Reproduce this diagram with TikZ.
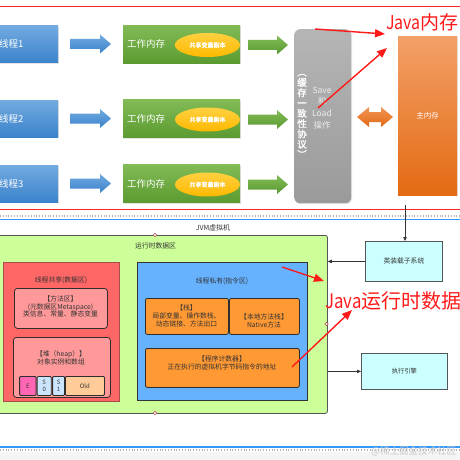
\documentclass[tikz,border=0pt]{standalone}
\usepackage{fontspec}
\setmainfont{Noto Sans CJK SC}
\newfontfamily\cjkbold[FakeBold=1.5]{Noto Sans CJK SC}
\usetikzlibrary{arrows.meta,shapes.geometric,shadows}
\definecolor{thrtop}{HTML}{72AAE0}
\definecolor{thrbot}{HTML}{3A83CB}
\definecolor{grntop}{HTML}{82BB56}
\definecolor{grnbot}{HTML}{5B9A31}
\definecolor{ylwtop}{HTML}{FFD040}
\definecolor{ylwbot}{HTML}{FDB900}
\definecolor{graytop}{HTML}{B5B5B5}
\definecolor{graybot}{HTML}{9A9A9A}
\definecolor{orgtop}{HTML}{F3A068}
\definecolor{orgbot}{HTML}{E36A12}
\definecolor{limec}{HTML}{CCFF99}
\definecolor{shredc}{HTML}{FF6666}
\definecolor{pinkc}{HTML}{FF9999}
\definecolor{privc}{HTML}{66B2FF}
\definecolor{orgc}{HTML}{FF9933}
\definecolor{cyanc}{HTML}{CCFFFF}
\definecolor{edenc}{HTML}{FF66B3}
\definecolor{survc}{HTML}{CCE5FF}
\definecolor{oldc}{HTML}{FFCC99}
\definecolor{edgec}{HTML}{555555}
\definecolor{redmark}{HTML}{FF1A1A}
\definecolor{linkblue}{HTML}{3399FF}
\definecolor{textc}{HTML}{333333}
\newcommand\myblockarrow[4]{%
  \shade[#4] (#1,#3-5) -- (#2-11,#3-5) -- (#2-11,#3-9.5) -- (#2,#3) -- (#2-11,#3+9.5) -- (#2-11,#3+5) -- (#1,#3+5) -- cycle;}
\newcommand\narrowjava{\scalebox{0.84}[1]{Java}}
\tikzset{
  box/.style={rectangle, inner sep=0pt, anchor=north west},
  shadowed/.style={drop shadow={opacity=0.22, shadow xshift=0.8pt, shadow yshift=-1pt}},
  threadbox/.style={box, shadowed, top color=thrtop, bottom color=thrbot, minimum width=88, minimum height=37},
  workbox/.style={box, shadowed, top color=grntop, bottom color=grnbot, minimum width=117, minimum height=38},
  copyell/.style={ellipse, inner sep=0pt, top color=ylwtop, bottom color=ylwbot, minimum width=65, minimum height=24},
  dbox/.style={box, draw=edgec, line width=0.8pt},
  inbox/.style={box, draw=textc!90!black, line width=0.8pt, rounded corners=2pt},
  small/.style={font=\fontsize{6.8}{7.6}\selectfont, text=textc, align=center, inner sep=0pt},
  bigred/.style={anchor=base west, inner sep=0pt, text=redmark},
  redarrow/.style={redmark, line width=1.4pt, -{Triangle[length=10pt,width=8pt]}},
  conn/.style={textc, line width=0.6pt, -{Triangle[length=4pt,width=3.5pt]}},
  handle/.style={circle, draw=red!40!gray, fill=white, inner sep=0pt, minimum size=3.5pt, line width=0.4pt}
}
\begin{document}
\begin{tikzpicture}[x=1pt,y=-1pt]
\useasboundingbox (0,0) rectangle (460,460);
\clip (0,0) rectangle (460,460);
\fill[white] (0,0) rectangle (460,460);
\fill[gray!8] (0,452) rectangle (460,460);

% ---------- top part: Java memory model ----------
\draw[red!85, line width=1pt] (-5,7) rectangle (470,209.5);

\foreach \n/\yc in {1/44,2/118.5,3/183.5}{
  \node[threadbox] (t\n) at (-30,\yc-18.5) {};
  \node[anchor=west, text=white, inner sep=0pt, font=\fontsize{9.5}{10}\selectfont] (tl\n) at (-1,\yc) {线程\n};
  \myblockarrow{70}{111}{\yc}{top color=thrtop, bottom color=thrbot}
  \node[workbox] (w\n) at (123,\yc-19) {};
  \node[anchor=west, text=white, inner sep=0pt, font=\fontsize{9.5}{10}\selectfont] (wl\n) at (127,\yc) {工作内存};
  \node[copyell] (e\n) at (207.5,\yc+1) {};
  \node[text=white, inner sep=0pt, font=\cjkbold\fontsize{6}{6}\selectfont] (el\n) at (e\n) {共享变量副本};
  \myblockarrow{248}{288}{\yc+1}{top color=grntop, bottom color=grnbot}
}

\node[box, shadowed, rounded corners=6pt, top color=graytop, bottom color=graybot,
      minimum width=57, minimum height=174] (cache) at (294,29) {};
\node[text=white, align=center, inner sep=0pt, font=\cjkbold\fontsize{9.5}{10.3}\selectfont] (proto) at (302,116)
  {︵\\缓\\存\\一\\致\\性\\协\\议\\︶};
\node[text=white!85!gray, align=center, inner sep=0pt, font=\fontsize{8.5}{11.7}\selectfont] (saveload) at (322,108)
  {Save\\和\\Load\\操作};

\shade[top color=orgtop!80!orgbot, bottom color=orgbot]
  (357,117) -- (369,107) -- (369,112) -- (381,112) -- (381,107) -- (393,117)
  -- (381,127) -- (381,122) -- (369,122) -- (369,127) -- cycle;

\node[box, shadowed, top color=orgtop, bottom color=orgbot, minimum width=59, minimum height=159] (mainmem) at (398,36) {};
\node[text=white, inner sep=0pt, font=\fontsize{7.5}{8}\selectfont] (mainlbl) at (mainmem) {主内存};

\node[bigred, font=\fontsize{19}{19}\selectfont] (jmm) at (386,30) {\narrowjava 内存};
\coordinate (ra1s) at (315,29);
\coordinate (ra1e) at (385,34);
\coordinate (ra2s) at (318,108);
\coordinate (ra2e) at (387,48);
\draw[redarrow] (ra1s) -- (ra1e);
\draw[redarrow] (ra2s) -- (ra2e);

% ---------- separators ----------
\draw[gray!60, line width=2pt, dash pattern=on 0.8pt off 2pt] (0,216) -- (460,216);
\draw[linkblue, line width=1.2pt] (0,219.5) -- (460,219.5);
\draw[linkblue, line width=1.2pt] (0,447) -- (460,447);
\draw[gray!60, line width=2pt, dash pattern=on 0.8pt off 2pt] (0,450) -- (460,450);

% ---------- bottom part: JVM ----------
\node[small, font=\fontsize{7}{7.6}\selectfont] (jvm) at (213,228) {JVM虚拟机};

\node[dbox, fill=limec, rounded corners=2pt, minimum width=332, minimum height=178] (rt) at (-5,235) {};
\node[small, anchor=west] (rtl) at (135,246) {运行时数据区};

\node[box, fill=shredc, draw=red!50!black!70, line width=0.8pt, minimum width=116, minimum height=139] (shared) at (3,262) {};
\node[small] (sharedl) at (61,280) {线程共享(数据区)};

\node[inbox, fill=pinkc, rounded corners=3pt, minimum width=93, minimum height=40] (method) at (14,288) {};
\node[small] (methodl) at (60.5,306.5) {【方法区】\\(元数据区Metaspace)\\类信息、常量、静态变量};

\node[inbox, fill=pinkc, rounded corners=3pt, minimum width=97, minimum height=60] (heap) at (13,337) {};
\node[small] (heapl) at (61,358) {【堆（heap）】\\对象实例和数组};

\node[inbox, rounded corners=1pt, fill=edenc, minimum width=16.5, minimum height=19] (eden) at (19.2,376) {};
\node[inbox, rounded corners=1pt, fill=survc, minimum width=14, minimum height=19] (s0) at (36.8,376) {};
\node[inbox, rounded corners=1pt, fill=survc, minimum width=12, minimum height=19] (s1) at (52.2,376) {};
\node[inbox, rounded corners=1pt, fill=oldc, minimum width=39, minimum height=19] (old) at (65,376) {};
\node[small, font=\fontsize{6}{7}\selectfont] at (eden) {E};
\node[small, font=\fontsize{6}{7}\selectfont] at (s0) {S\\0};
\node[small, font=\fontsize{6}{7}\selectfont] at (s1) {S\\1};
\node[small, font=\fontsize{6}{7}\selectfont] at (old) {Old};

\node[box, fill=privc, draw=textc, line width=0.8pt, minimum width=170, minimum height=138] (priv) at (137,262) {};
\node[small] (privl) at (222,281) {线程私有(指令区)};

\node[inbox, fill=orgc, minimum width=83, minimum height=36] (stack) at (145,298) {};
\node[small, font=\fontsize{6.8}{7.8}\selectfont] (stackl) at (186.5,316) {【栈】\\局部变量、操作数栈、\\动态链接、方法出口};
\node[inbox, fill=orgc, minimum width=70, minimum height=36] (native) at (229,298) {};
\node[small, font=\fontsize{6.8}{7.8}\selectfont] (nativel) at (264,320.5) {【本地方法栈】\\Native方法};
\node[inbox, fill=orgc, minimum width=154, minimum height=39] (pc) at (145,348) {};
\node[small, font=\fontsize{6.8}{7.8}\selectfont] (pcl) at (222,363) {【程序计数器】\\正在执行的虚拟机字节码指令的地址};

\node[dbox, fill=cyanc, minimum width=77, minimum height=40] (cl) at (365,241) {};
\node[small] (cll) at (cl) {类装载子系统};
\node[dbox, fill=cyanc, minimum width=86, minimum height=36] (ex) at (361,353) {};
\node[small, font=\fontsize{6.3}{7}\selectfont] (exl) at (ex) {执行引擎};

\coordinate (cltop) at (405,205);
\draw[conn] (cltop) -- (cltop |- cl.north);
\draw[conn] (cl.west) -- (cl.west -| rt.east);
\draw[conn] (rt.east |- ex.west) -- (ex.west);

\node[handle] (h1) at (155,235) {};
\node[handle] (h2) at (155,413) {};
\node[handle] (h3) at (326.5,324) {};

\node[bigred, font=\fontsize{20}{20}\selectfont] (jrt) at (325,308) {\narrowjava 运行时数据区};
\coordinate (rb1s) at (282,267);
\coordinate (rb1e) at (324,281);
\coordinate (rb2s) at (292,367);
\coordinate (rb2e) at (352,310);
\draw[redarrow] (rb1s) -- (rb1e);
\draw[redarrow] (rb2s) -- (rb2e);

\node[anchor=west, inner sep=0pt, text=gray!45, font=\fontsize{9.5}{10}\selectfont] (wm) at (371,451) {@稀土掘金技术社区};
\end{tikzpicture}
\end{document}
